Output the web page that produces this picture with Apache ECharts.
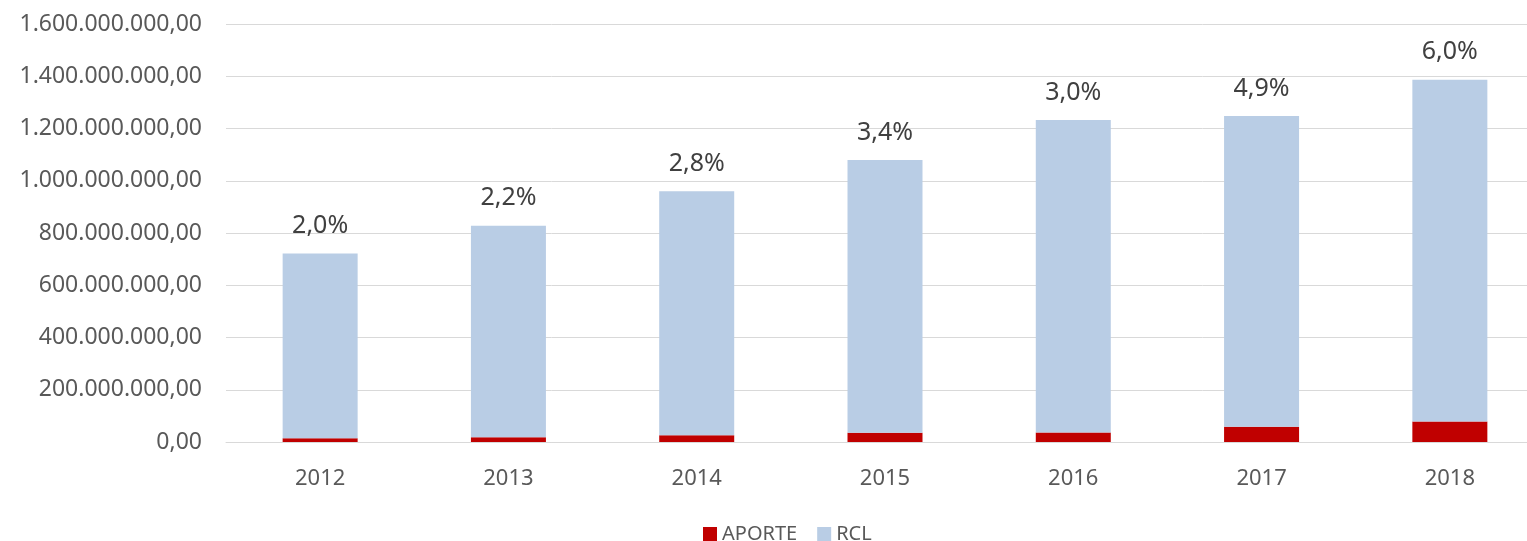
<!DOCTYPE html>
<html>
<head>
<meta charset="utf-8">
<title>APORTE x RCL</title>
<script src="https://cdn.jsdelivr.net/npm/echarts@6/dist/echarts.min.js"></script>
<style>
    html, body { margin: 0; padding: 0; background: #ffffff; }
    #main { width: 1527px; height: 541px; }
</style>
</head>
<body>
<div id="main"></div>
<script>
// dados
var anos = ['2012', '2013', '2014', '2015', '2016', '2017', '2018'];
var aporte = [14200000, 17800000, 26100000, 35500000, 35900000, 58300000, 78500000];
var rcl = [707800000, 810200000, 933900000, 1043500000, 1196600000, 1189700000, 1308500000];
var percentuais = ['2,0%', '2,2%', '2,8%', '3,4%', '3,0%', '4,9%', '6,0%'];

// formato brasileiro: 1.600.000.000,00
function formatarValor(v) {
    var s = Math.round(v).toString();
    s = s.replace(/\B(?=(\d{3})+(?!\d))/g, '.');
    return s + ',00';
}

var chart = echarts.init(document.getElementById('main'), null, { renderer: 'canvas' });

var fonte = '"Noto Sans", sans-serif';

var option = {
    backgroundColor: '#ffffff',
    animation: false,
    color: ['#c00000', '#b9cde5'],
    grid: {
        left: 226,
        top: 24,
        width: 1318,
        height: 418,
        outerBoundsMode: 'none' // a area do grafico passa da borda direita (recorte do original)
    },
    legend: {
        left: 703,
        top: 524,
        padding: 0,
        itemWidth: 14,
        itemHeight: 14,
        itemGap: 20,
        icon: 'rect',
        selectedMode: false,
        textStyle: { fontSize: 20, fontFamily: fonte, color: '#595959' },
        data: ['APORTE', 'RCL']
    },
    xAxis: {
        type: 'category',
        data: anos,
        axisTick: { show: false },
        axisLine: { lineStyle: { color: '#d9d9d9', width: 1 } },
        axisLabel: { fontSize: 22, fontFamily: fonte, color: '#595959', margin: 26 }
    },
    yAxis: {
        type: 'value',
        min: 0,
        max: 1600000000,
        interval: 200000000,
        axisLine: { show: false },
        axisTick: { show: false },
        splitLine: { lineStyle: { color: '#d9d9d9', width: 1 } },
        axisLabel: {
            fontSize: 23,
            fontFamily: fonte,
            color: '#595959',
            margin: 24,
            formatter: formatarValor
        }
    },
    series: [
        {
            name: 'APORTE',
            type: 'bar',
            stack: 'total',
            barWidth: 75,
            data: aporte
        },
        {
            name: 'RCL',
            type: 'bar',
            stack: 'total',
            barWidth: 75,
            data: rcl,
            label: {
                show: true,
                position: 'top',
                distance: 15,
                fontSize: 25,
                fontFamily: fonte,
                color: '#404040',
                formatter: function (p) { return percentuais[p.dataIndex]; }
            }
        }
    ]
};

chart.setOption(option);
</script>
</body>
</html>
